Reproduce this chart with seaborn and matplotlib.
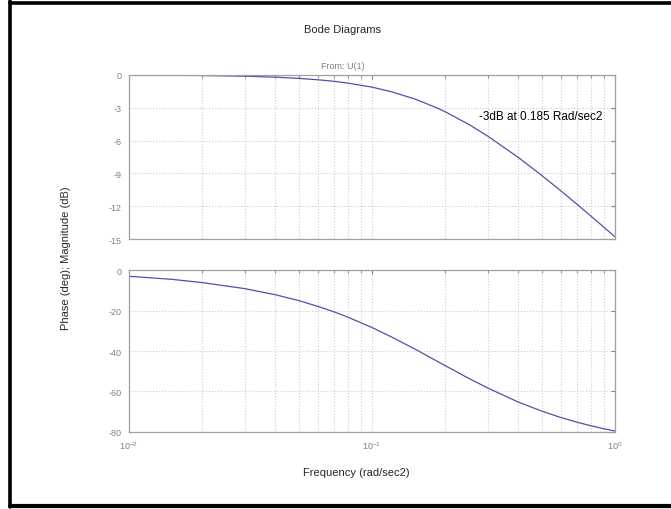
import matplotlib
matplotlib.use("Agg")
import matplotlib.pyplot as plt
import seaborn as sns
import pandas as pd
import numpy as np
from matplotlib.lines import Line2D
from matplotlib.ticker import LogLocator

# Data
mag_freq = [0.015, 0.02, 0.03, 0.04, 0.05, 0.06, 0.07, 0.08, 0.1, 0.12, 0.15,
            0.185, 0.2, 0.25, 0.3, 0.4, 0.5, 0.6, 0.7, 0.8, 0.9, 1.0]
mag_db = [-0.03, -0.05, -0.11, -0.20, -0.31, -0.44, -0.58, -0.75, -1.11, -1.53, -2.19,
          -3.01, -3.36, -4.51, -5.60, -7.54, -9.19, -10.61, -11.85, -12.94, -13.92, -14.80]
ph_freq = [0.01, 0.015, 0.02, 0.03, 0.04, 0.05, 0.06, 0.07, 0.08, 0.1, 0.12, 0.15,
           0.185, 0.2, 0.25, 0.3, 0.4, 0.5, 0.6, 0.7, 0.8, 0.9, 1.0]
ph_deg = [-3.1, -4.6, -6.2, -9.2, -12.2, -15.1, -18.0, -20.7, -23.4, -28.4, -33.0, -39.0,
          -45.0, -47.2, -53.5, -58.3, -65.2, -69.7, -72.9, -75.2, -77.0, -78.4, -79.5]
mag_ticks = [0, -3, -6, -9, -12, -15]
ph_ticks = [0, -20, -40, -60, -80]

sns.set_style("white")
plt.rcParams['font.family'] = ['Liberation Sans', 'DejaVu Sans']
plt.rcParams['axes.unicode_minus'] = False

line_color = "#5050aa"
grid_color = "#cccccc"
tick_color = "#808080"
spine_color = "#a0a0a0"

fig = plt.figure(figsize=(6.71, 5.10), dpi=100)
ax1 = fig.add_axes([0.1922, 0.5294, 0.7243, 0.3216])
ax2 = fig.add_axes([0.1922, 0.151, 0.7243, 0.3176])

df_mag = pd.DataFrame({"f": mag_freq, "v": mag_db})
df_ph = pd.DataFrame({"f": ph_freq, "v": ph_deg})
sns.lineplot(data=df_mag, x="f", y="v", ax=ax1, color=line_color, lw=0.9)
sns.lineplot(data=df_ph, x="f", y="v", ax=ax2, color=line_color, lw=0.9)

for ax, ticks, lim in [(ax1, mag_ticks, (-15, 0)), (ax2, ph_ticks, (-80, 0))]:
    ax.set_xscale("log")
    ax.set_xlim(0.01, 1.0)
    ax.set_ylim(*lim)
    ax.set_yticks(ticks)
    ax.set_xlabel("")
    ax.set_ylabel("")
    ax.xaxis.set_major_locator(LogLocator(base=10, numticks=10))
    ax.xaxis.set_minor_locator(LogLocator(base=10, subs=np.arange(2, 10), numticks=10))
    ax.grid(True, which="both", axis="x", color=grid_color, linestyle=":", linewidth=0.8)
    ax.grid(True, which="major", axis="y", color=grid_color, linestyle=":", linewidth=0.8)
    ax.tick_params(axis="both", which="both", direction="in", colors=tick_color,
                   labelsize=6.5, top=True, right=True, length=3, pad=5)
    ax.tick_params(axis="x", which="minor", length=2)
    for s in ax.spines.values():
        s.set_color(spine_color)
        s.set_linewidth(0.9)
    ax.set_axisbelow(True)

ax1.tick_params(axis="x", which="both", labelbottom=False)
ax2.tick_params(axis="x", which="major", labelsize=6.5, pad=5)

ax1.text(0.2756, -3.75, "-3dB at 0.185 Rad/sec2", fontsize=8.5, color="black",
         ha="left", va="center")

fig.text(0.511, 0.941, "Bode Diagrams", ha="center", va="center", fontsize=8)
fig.text(0.511, 0.870, "From: U(1)", ha="center", va="center", fontsize=6.5, color=tick_color)
fig.text(0.098, 0.494, "Phase (deg); Magnitude (dB)", ha="center", va="center",
         rotation=90, fontsize=8)
fig.text(0.531, 0.073, "Frequency (rad/sec2)", ha="center", va="center", fontsize=8)

# black frame edges of the figure
fig.add_artist(Line2D([0.0155, 1.0], [0.9931, 0.9931], transform=fig.transFigure, color="black", lw=2.6))
fig.add_artist(Line2D([0.0155, 0.0155], [0.0040, 0.9960], transform=fig.transFigure, color="black", lw=2.6))
fig.add_artist(Line2D([0.0155, 1.0], [0.0059, 0.0059], transform=fig.transFigure, color="black", lw=3.0))

fig.savefig("out.png", dpi=100)
